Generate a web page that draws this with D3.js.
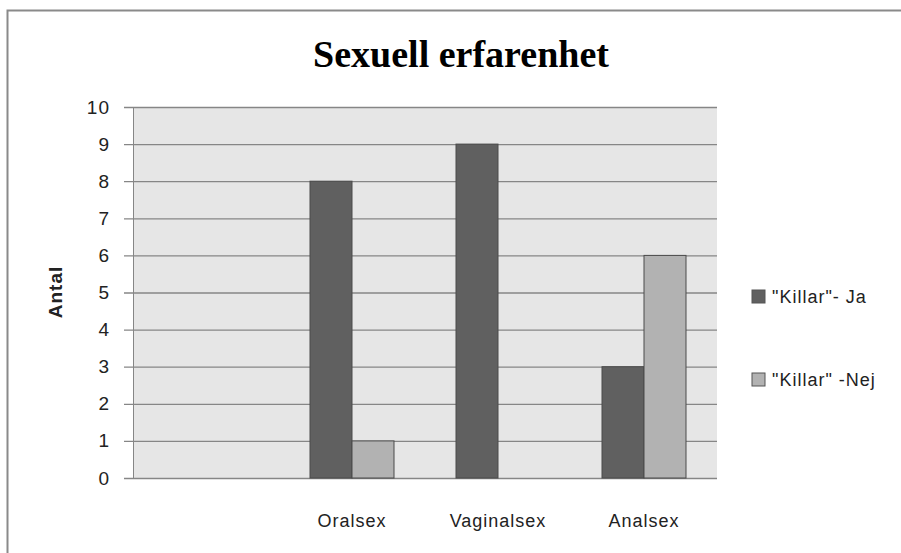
<!DOCTYPE html>
<html>
<head>
<meta charset="utf-8">
<script src="https://cdn.jsdelivr.net/npm/d3@7"></script>
<style>
  body { margin: 0; background: #fff; }
</style>
</head>
<body>
<div id="chart"></div>
<script>
var categories = ["", "Oralsex", "Vaginalsex", "Analsex"]
var seriesNames = ["\"Killar\"- Ja", "\"Killar\" -Nej"]
var ja = [0, 8, 9, 3]
var nej = [0, 1, 0, 6]
var yTicks = [0, 1, 2, 3, 4, 5, 6, 7, 8, 9, 10]

var colors = ["#606060", "#b2b2b2"]

var margin = { top: 107, left: 133 }
var width = 584
var height = 371

var svg = d3.select("#chart")
  .append("svg")
    .attr("width", 901)
    .attr("height", 553)

// outer frame
svg.append("rect")
  .attr("x", 7.5).attr("y", 10.5)
  .attr("width", 910).attr("height", 560)
  .attr("fill", "#fff")
  .attr("stroke", "#8a8a8a")
  .attr("stroke-width", 2)

svg.append("text")
  .attr("x", 461).attr("y", 67)
  .attr("text-anchor", "middle")
  .style("font-family", "Liberation Serif, serif")
  .style("font-weight", "bold")
  .style("font-size", "38px")
  .text("Sexuell erfarenhet")

var g = svg.append("g")
  .attr("transform", "translate(" + margin.left + "," + margin.top + ")")

var x = d3.scaleBand()
  .domain(categories.map(function (d, i) { return i }))
  .range([0, width])

var x1 = d3.scaleBand()
  .domain([0, 1])
  .range([0, 84])

var y = d3.scaleLinear()
  .domain([0, 10])
  .range([height, 0])

g.append("rect")
  .attr("width", width).attr("height", height)
  .attr("fill", "#e6e6e6")

// gridlines + ticks
var yAxis = g.append("g")
  .call(d3.axisLeft(y).tickValues(yTicks).tickSize(-width).tickSizeOuter(0).tickPadding(23))
yAxis.select(".domain").remove()
yAxis.selectAll(".tick line")
  .attr("x1", -9)
  .attr("stroke", "#868686")
  .attr("stroke-width", 1.3)
yAxis.selectAll(".tick text")
  .style("font-family", "Liberation Sans, sans-serif")
  .style("font-size", "19px")
  .style("letter-spacing", "1px")
  .attr("fill", "#222")

g.append("line")
  .attr("x1", 0.5).attr("x2", 0.5)
  .attr("y1", 0).attr("y2", height)
  .attr("stroke", "#868686")

var data = [ja, nej]
data.forEach(function (vals, s) {
  var rows = vals.map(function (v, i) { return { i: i, v: v } })
    .filter(function (d) { return d.v > 0 })
  g.append("g").selectAll("rect")
    .data(rows).enter()
    .append("rect")
      .attr("x", function (d) { return x(d.i) + x.bandwidth() / 2 - 42 + x1(s) })
      .attr("y", function (d) { return y(d.v) })
      .attr("width", x1.bandwidth())
      .attr("height", function (d) { return height - y(d.v) })
      .attr("fill", colors[s])
      .attr("stroke", "#4a4a4a")
      .attr("stroke-width", 1)
})

// x labels
g.append("g").selectAll("text")
  .data(categories).enter()
  .append("text")
    .attr("x", function (d, i) { return x(i) + x.bandwidth() / 2 })
    .attr("y", height + 49)
    .attr("text-anchor", "middle")
    .style("font-family", "Liberation Sans, sans-serif")
    .style("font-size", "18px")
    .style("letter-spacing", "1px")
    .attr("fill", "#222")
    .text(function (d) { return d })

svg.append("text")
  .attr("transform", "translate(62,292) rotate(-90)")
  .attr("text-anchor", "middle")
  .style("font-family", "Liberation Sans, sans-serif")
  .style("font-size", "19px")
  .style("font-weight", "bold")
  .style("letter-spacing", "1px")
  .attr("fill", "#222")
  .text("Antal")

// legend
var legend = svg.append("g").selectAll("g")
  .data(seriesNames).enter()
  .append("g")
    .attr("transform", function (d, i) { return "translate(752," + (290 + i * 83) + ")" })
legend.append("rect")
  .attr("width", 13).attr("height", 13)
  .attr("fill", function (d, i) { return colors[i] })
  .attr("stroke", "#555")
legend.append("text")
  .attr("x", 20).attr("y", 13)
  .style("font-family", "Liberation Sans, sans-serif")
  .style("font-size", "18px")
  .style("letter-spacing", "1px")
  .attr("fill", "#222")
  .text(function (d) { return d })
</script>
</body>
</html>
